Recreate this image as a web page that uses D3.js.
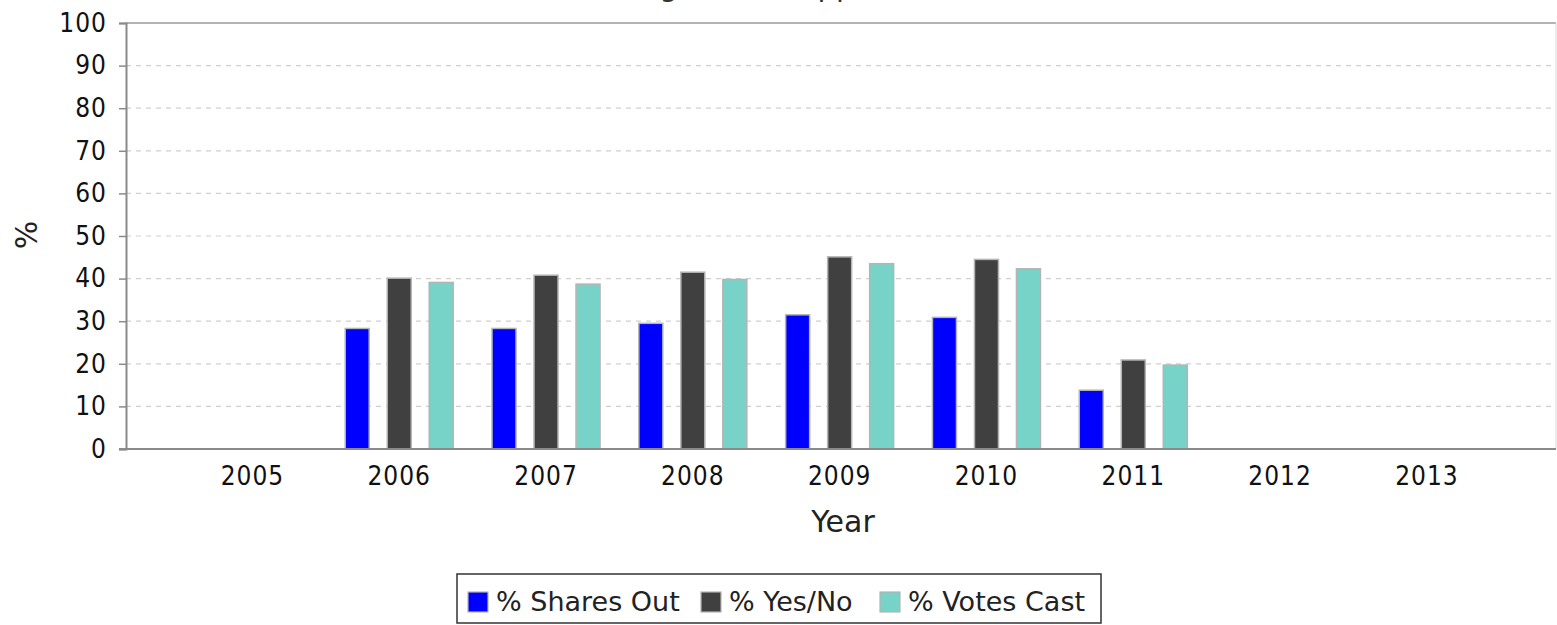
<!DOCTYPE html>
<html>
<head>
<meta charset="utf-8">
<script src="https://cdn.jsdelivr.net/npm/d3@7/dist/d3.min.js"></script>
<style>
  html, body { margin: 0; padding: 0; background: #ffffff; }
  svg { display: block; }
</style>
</head>
<body>
<script>
// ---- data ----
const years = ["2005", "2006", "2007", "2008", "2009", "2010", "2011", "2012", "2013"];
const seriesNames = ["% Shares Out", "% Yes/No", "% Votes Cast"];
const sharesOut = [null, 28.3, 28.3, 29.5, 31.5, 30.9, 13.8, null, null];
const yesNo     = [null, 40.1, 40.8, 41.5, 45.1, 44.5, 20.9, null, null];
const votesCast = [null, 39.1, 38.7, 39.8, 43.5, 42.3, 19.7, null, null];
const yTicks = [0, 10, 20, 30, 40, 50, 60, 70, 80, 90, 100];
const titleText = "Management Support";
const xTitle = "Year";
const yTitle = "%";

const seriesValues = [sharesOut, yesNo, votesCast];
const colors = ["#0000ff", "#404040", "#77d3c8"];

// ---- layout ----
const W = 1557, H = 625;
const plotLeft = 126, plotRight = 1556, plotTop = 23, plotBottom = 449;

const svg = d3.select("body").append("svg").attr("width", W).attr("height", H);

const y = d3.scaleLinear().domain([0, 100]).range([plotBottom, plotTop]);
const x = d3.scaleBand().domain(years).range([179, 1500.3]).paddingInner(0).paddingOuter(0);
const xInner = d3.scaleBand().domain(d3.range(seriesNames.length)).range([-54, 54]).paddingInner(0.4286).paddingOuter(0);

const tickFont = "'DejaVu Sans Condensed', 'DejaVu Sans', sans-serif";

// title (lies above the visible area, as in the reference)
svg.append("text")
  .attr("x", 738).attr("y", -4)
  .attr("text-anchor", "middle")
  .attr("font-family", "'DejaVu Sans', sans-serif")
  .attr("font-size", 29)
  .attr("fill", "#333")
  .text(titleText);

// gridlines
svg.append("g").selectAll("line")
  .data(yTicks.filter(d => d > 0 && d < 100))
  .join("line")
  .attr("x1", plotLeft).attr("x2", plotRight)
  .attr("y1", d => y(d)).attr("y2", d => y(d))
  .attr("stroke", "#cfcfcf").attr("stroke-width", 1.2)
  .attr("stroke-dasharray", "5,5");

// plot outline top/right
svg.append("line").attr("x1", plotLeft).attr("x2", plotRight).attr("y1", y(100)).attr("y2", y(100))
  .attr("stroke", "#9a9a9a").attr("stroke-width", 1.5);
svg.append("line").attr("x1", plotRight).attr("x2", plotRight).attr("y1", y(100)).attr("y2", y(0))
  .attr("stroke", "#d8d8d8").attr("stroke-width", 1);

// bars
const barData = [];
years.forEach((yr, i) => {
  seriesValues.forEach((vals, s) => {
    if (vals[i] != null) barData.push({ yr, s, v: vals[i] });
  });
});
svg.append("g").selectAll("rect")
  .data(barData)
  .join("rect")
  .attr("x", d => x(d.yr) + x.bandwidth() / 2 + xInner(d.s))
  .attr("width", xInner.bandwidth())
  .attr("y", d => y(d.v))
  .attr("height", d => y(0) - y(d.v))
  .attr("fill", d => colors[d.s])
  .attr("stroke", "#b4b4b4")
  .attr("stroke-width", 1.5);

// y axis
const yAxis = d3.axisLeft(y).tickValues(yTicks).tickSize(7).tickPadding(12);
const gy = svg.append("g").attr("transform", `translate(${plotLeft},0)`).call(yAxis);
gy.select(".domain").attr("stroke", "#8a8a8a").attr("stroke-width", 2);
gy.selectAll(".tick line").attr("stroke", "#8a8a8a").attr("stroke-width", 1.5);
gy.selectAll(".tick text")
  .attr("font-family", tickFont).attr("font-size", 26).attr("fill", "#111")
  .attr("letter-spacing", 1);

// x axis
const xAxis = d3.axisBottom(x).tickSize(0).tickPadding(18);
const gx = svg.append("g").attr("transform", `translate(0,${plotBottom})`).call(xAxis);
gx.select(".domain").remove();
svg.append("line").attr("x1", plotLeft - 7).attr("x2", plotRight).attr("y1", plotBottom).attr("y2", plotBottom)
  .attr("stroke", "#8a8a8a").attr("stroke-width", 2);
gx.selectAll(".tick text")
  .attr("font-family", tickFont).attr("font-size", 26).attr("fill", "#111")
  .attr("letter-spacing", 1);

// axis titles
svg.append("text")
  .attr("x", 843).attr("y", 532)
  .attr("text-anchor", "middle")
  .attr("font-family", "'DejaVu Sans', sans-serif")
  .attr("font-size", 30)
  .attr("fill", "#222")
  .text(xTitle);

svg.append("text")
  .attr("transform", "translate(37,235) rotate(-90)")
  .attr("text-anchor", "middle")
  .attr("font-family", "'DejaVu Sans', sans-serif")
  .attr("font-size", 30)
  .attr("fill", "#222")
  .text(yTitle);

// legend
const legend = svg.append("g");
legend.append("rect")
  .attr("x", 457).attr("y", 574).attr("width", 644).attr("height", 49)
  .attr("fill", "#fff").attr("stroke", "#333").attr("stroke-width", 1.5);
const legendX = [468, 701, 880];
seriesNames.forEach((name, i) => {
  legend.append("rect")
    .attr("x", legendX[i]).attr("y", 592).attr("width", 20).attr("height", 20)
    .attr("fill", colors[i]).attr("stroke", "#b4b4b4").attr("stroke-width", 1.2);
  legend.append("text")
    .attr("x", legendX[i] + 28).attr("y", 611)
    .attr("font-family", "'DejaVu Sans', sans-serif")
    .attr("font-size", 27)
    .attr("fill", "#222")
    .text(name);
});
</script>
</body>
</html>
